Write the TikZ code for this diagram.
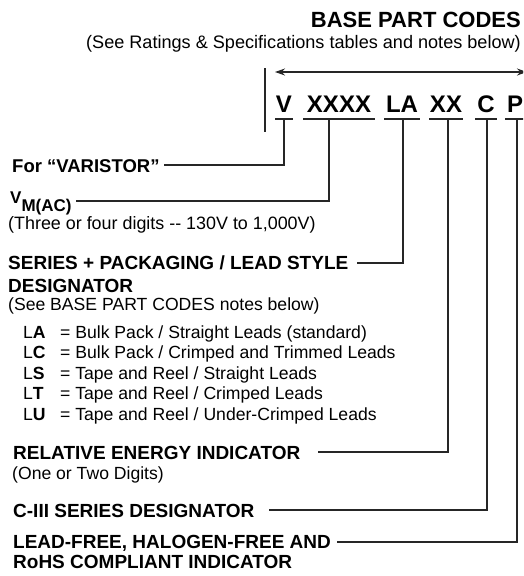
\documentclass[tikz,border=0pt]{standalone}
\usepackage{fontspec}
\setmainfont{Liberation Sans}
\usetikzlibrary{arrows.meta}
\begin{document}
\begin{tikzpicture}[x=1pt,y=-1pt,
  lab/.style={anchor=base west, inner sep=0pt, font=\fontsize{19}{22}\selectfont\bfseries},
  note/.style={anchor=base west, inner sep=0pt, font=\fontsize{17.6}{20}\selectfont},
  codeletter/.style={anchor=base, inner sep=0pt, font=\fontsize{24}{28}\selectfont\bfseries},
  lead/.style={line width=1.3pt, draw=black!85},
  dblarrow/.style={{Stealth[length=10pt,width=7pt]}-{Stealth[length=10pt,width=7pt]}}]
\path[use as bounding box] (0,0) rectangle (523,576);
\clip (0,0) rectangle (523,576);

% title
\node[anchor=base east, inner sep=0pt, font=\fontsize{22}{26}\selectfont\bfseries] (title) at (521,27) {BASE PART CODES};
\node[anchor=base east, inner sep=0pt, font=\fontsize{18.1}{22}\selectfont] (sub) at (521,48) {(See Ratings \& Specifications tables and notes below)};

% bracket bar and arrow
\coordinate (barT) at (265,68);
\coordinate (barB) at (265,132);
\draw[lead] (barT) -- (barB);
\coordinate (arL) at (275,72);
\coordinate (arR) at (527,72);
\draw[lead, dblarrow] (arL) -- (arR);

% code letters
\node[codeletter] (cV) at (284,112) {V};
\node[codeletter] (cX) at (339,112) {XXXX};
\node[codeletter] (cLA) at (402,112) {LA};
\node[codeletter] (cXX) at (446,112) {XX};
\node[codeletter] (cC) at (486,112) {C};
\node[codeletter, anchor=base west] (cP) at (507,112) {P};

% underlines
\draw[lead] (275,119) -- (293,119);
\draw[lead] (303,119) -- (375,119);
\draw[lead] (384,119) -- (420,119);
\draw[lead] (429,119) -- (463,119);
\draw[lead] (475,119) -- (497,119);
\draw[lead] (505,119) -- (530,119);

% tick points
\coordinate (tV) at (284,119);
\coordinate (tX) at (329,119);
\coordinate (tLA) at (403,119);
\coordinate (tXX) at (448,119);
\coordinate (tC) at (487,119);
\coordinate (tP) at (517,119);

% labels
\node[lab, font=\fontsize{18.5}{22}\selectfont\bfseries] (forV) at (12,172) {For “VARISTOR”};
\node[anchor=base west, inner sep=0pt, font=\fontsize{17}{20}\selectfont\bfseries] (vm) at (10,203) {V\raisebox{-8pt}{M(AC)}};
\node[note, font=\fontsize{17.9}{20}\selectfont] (vmt) at (8,229) {(Three or four digits -{}- 130V to 1,000V)};
\node[lab] (ser1) at (8,269.5) {SERIES + PACKAGING / LEAD STYLE};
\node[lab] (ser2) at (8,292) {DESIGNATOR};
\node[note] (sern) at (8,310) {(See BASE PART CODES notes below)};

\node[note] (oA) at (23,338) {L\textbf{A}};
\node[note] (oAt) at (60,338) {= Bulk Pack / Straight Leads (standard)};
\node[note] (oC) at (23,358.5) {L\textbf{C}};
\node[note] (oCt) at (60,358.5) {= Bulk Pack / Crimped and Trimmed Leads};
\node[note] (oS) at (23,379) {L\textbf{S}};
\node[note] (oSt) at (60,379) {= Tape and Reel / Straight Leads};
\node[note] (oT) at (23,399.5) {L\textbf{T}};
\node[note] (oTt) at (60,399.5) {= Tape and Reel / Crimped Leads};
\node[note] (oU) at (23,420) {L\textbf{U}};
\node[note] (oUt) at (60,420) {= Tape and Reel / Under-Crimped Leads};

\node[lab] (rel) at (13,459) {RELATIVE ENERGY INDICATOR};
\node[note] (relt) at (12,479) {(One or Two Digits)};
\node[lab] (c3) at (13,517) {C-III SERIES DESIGNATOR};
\node[lab] (lf1) at (13,548) {LEAD-FREE, HALOGEN-FREE AND};
\node[lab] (lf2) at (13,568) {RoHS COMPLIANT INDICATOR};

% leader ends
\coordinate (eV) at (164,165);
\coordinate (eX) at (76,201);
\coordinate (eLA) at (357,263);
\coordinate (eXX) at (318,452);
\coordinate (eC) at (269,510);
\coordinate (eP) at (337,542);

\draw[lead] (tV) |- (eV);
\draw[lead] (tX) |- (eX);
\draw[lead] (tLA) |- (eLA);
\draw[lead] (tXX) |- (eXX);
\draw[lead] (tC) |- (eC);
\draw[lead] (tP) |- (eP);
\end{tikzpicture}
\end{document}
